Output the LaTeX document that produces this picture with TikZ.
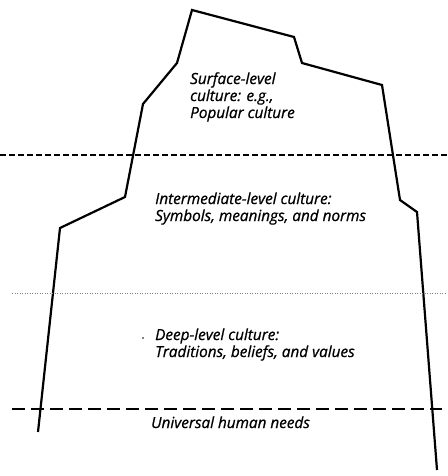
\documentclass[tikz,border=0pt]{standalone}
\usepackage{fontspec}
\setmainfont{Open Sans}[ItalicFeatures={FakeBold=0.8}]
\usetikzlibrary{calc}
\tikzset{
	label/.style={anchor=base west, inner sep=0pt, font=\fontsize{15.3}{17}\selectfont\itshape, align=left},
	berg/.style={line width=2.2pt, line join=miter},
}

\begin{document}
\begin{tikzpicture}[x=1pt, y=-1pt]
	\useasboundingbox (0, 0) rectangle (447, 476);
	\coordinate (L0) at (38, 432);
	\coordinate (L1) at (60, 228);
	\coordinate (L2) at (125, 197);
	\coordinate (L3) at (143, 104);
	\coordinate (L4) at (177, 63);
	\coordinate (T) at (192, 10);
	\coordinate (R1) at (294, 37);
	\coordinate (R2) at (302, 63);
	\coordinate (R3) at (382, 85);
	\coordinate (R4) at (400, 200);
	\coordinate (R5) at (417, 212);
	\coordinate (R0) at (437, 470);
	\draw[berg] (L0) -- (L1) -- (L2) -- (L3) -- (L4) -- (T) -- (R1) -- (R2) -- (R3) -- (R4) -- (R5) -- (R0);
	\draw[line width=1.3pt, dash pattern=on 6pt off 3pt] (0, 155) -- (447, 155);
	\draw[line width=0.5pt, gray, dash pattern=on 1pt off 1.5pt] (12, 293) -- (447, 293);
	\draw[line width=1.5pt, dash pattern=on 13pt off 6pt] (12, 409) -- (442, 409);
	\node[label] (surface) at (190, 118) {Surface-level\\culture: e.g.,\\Popular culture};
	\node[label] (inter) at (155, 221) {Intermediate-level culture:\\Symbols, meanings, and norms};
	\node[label] (deep) at (155, 357) {Deep-level culture:\\Traditions, beliefs, and values};
	\node[label] (needs) at (151, 428) {Universal human needs};
	\fill (143, 338) circle(0.9pt);
\end{tikzpicture}
\end{document}
